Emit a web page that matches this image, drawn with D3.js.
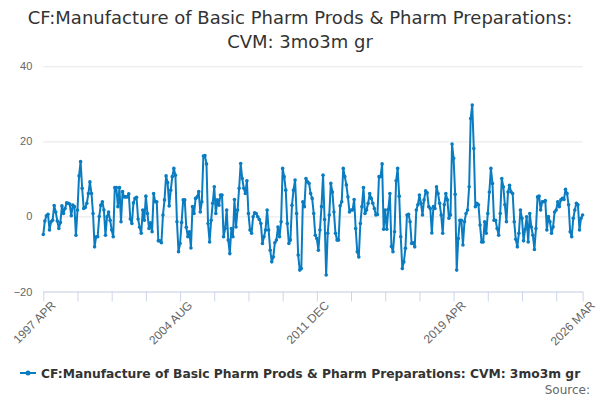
<!DOCTYPE html>
<html>
<head>
<meta charset="utf-8">
<script src="https://cdn.jsdelivr.net/npm/d3@7"></script>
<style>
  body { margin: 0; background: #fff; }
  svg { font-family: "DejaVu Sans", sans-serif; }
  .axis text { fill: #666; font-size: 11px; }
  .axis.x text { font-size: 12px; }
</style>
</head>
<body>
<svg id="chart" width="600" height="400"></svg>
<script>
const title = ["CF:Manufacture of Basic Pharm Prods & Pharm Preparations:", "CVM: 3mo3m gr"];
const seriesName = "CF:Manufacture of Basic Pharm Prods & Pharm Preparations: CVM: 3mo3m gr";
const monthNames = ["JAN", "FEB", "MAR", "APR", "MAY", "JUN", "JUL", "AUG", "SEP", "OCT", "NOV", "DEC"];
const firstYear = 1997;
const firstMonth = 3; // APR

// monthly values, 1997 APR .. 2026 MAR
const values = [
  -4.8, -1.2, 0.2, 0.6, -3.6, -1.4, -1.0, 2.9, 1.2, -1.2, -3.2, -1.6, 2.8, 0.8, 2.1, 3.6, 3.5, 3.3, 0.2, 3.0,
  2.6, -5.0, 1.7, 10.8, 14.6, 7.5, 2.1, 2.4, 3.5, 6.1, 9.2, 6.1, 0.8, -8.1, -5.4, -5.4, 0.0, 3.0, 3.9, 1.7,
  -5.0, -0.1, 1.2, -1.0, -3.6, -5.4, 7.7, 7.7, 2.6, 7.7, -1.4, 6.6, 5.2, 5.2, 5.2, 6.0, -0.7, -1.9, 3.6, 4.8,
  5.1, -0.7, -2.9, -4.5, 1.7, -1.0, 5.4, 0.8, -3.2, -1.7, -4.1, 6.1, 3.9, 3.9, -6.5, -6.5, -7.0, 0.4, 4.4, 10.8,
  9.0, 2.8, 7.0, 10.6, 12.8, 11.0, -1.4, -9.4, -7.2, -1.6, 4.4, 4.4, -2.9, -5.4, -4.1, -8.4, 2.6, 0.8, 4.8, 5.2,
  6.6, 1.2, 3.9, 16.1, 16.2, 14.0, -1.9, -6.8, -1.0, 3.5, 7.9, 0.8, 4.4, 3.0, 5.7, 5.7, -5.4, -3.2, 1.7, -6.3,
  -9.9, -3.2, -5.4, 4.5, -2.8, 1.7, 7.5, 14.1, 10.1, 7.5, 6.1, 9.5, 0.8, -3.6, -4.5, -0.1, 1.0, 0.8, -0.1, -0.8,
  -1.9, -7.2, -5.4, -3.6, 1.7, -3.6, -9.0, -12.1, -10.8, -7.0, -6.3, -2.8, -5.4, -1.4, 12.8, 10.6, 7.0, -1.9, -7.2, -6.3,
  3.0, 7.0, 9.7, 0.8, -10.3, -14.3, -13.9, 3.9, 2.6, 10.1, 9.2, 8.8, 6.1, 4.8, 0.8, -5.0, -5.9, -9.0, -3.6, 2.6,
  11.0, -0.8, -15.6, -4.5, 0.4, 8.8, 6.5, 1.2, -4.5, -6.3, -6.3, 2.8, 3.9, 12.8, 10.6, 8.4, 5.2, 1.2, 1.7, 1.7,
  4.5, -3.2, -9.4, -10.8, -1.9, 2.6, 7.7, 0.8, 1.7, 3.5, 6.1, 4.8, 3.5, 2.1, 0.4, 0.5, 10.6, 10.6, 14.0, -3.4,
  1.7, -3.4, 1.9, 6.1, -8.0, -9.4, -4.1, 9.5, 12.8, 5.4, -5.4, -13.9, -12.1, -8.5, 0.4, 0.6, -1.4, -7.2, -7.0, -8.1,
  1.7, 3.1, 5.7, 3.5, 0.4, 4.4, 6.8, 6.3, 2.6, 2.1, -4.4, 2.6, 2.1, 7.9, 6.1, 3.5, 0.4, -4.5, 3.1, 6.1,
  4.4, -0.5, 0.4, 19.3, 15.5, 5.9, -14.3, -5.9, -1.0, -1.0, -7.6, -1.4, 0.8, 1.7, 7.9, 26.1, 29.7, 18.1, 2.6, 3.5,
  3.1, -2.3, -6.8, -6.8, -1.4, -4.5, 0.8, 6.5, 12.8, 8.8, -1.0, -1.0, -3.2, -5.0, 0.8, 10.1, 7.9, 3.1, -1.4, 6.5,
  8.3, 6.5, 6.1, -1.4, -6.1, -8.1, -4.5, 1.7, -0.5, -6.5, -3.5, -0.1, -6.8, 0.8, -2.8, -5.0, -8.8, -3.2, 5.2, 5.4,
  1.7, 3.9, 3.9, 4.2, -3.6, 0.0, -1.4, -4.5, -2.8, 1.2, 1.7, 3.9, 2.6, 4.4, 4.8, 4.5, 7.2, 6.1, 3.1, -4.1,
  -5.4, -0.5, 1.7, 3.5, 3.1, -3.6, -0.5, 0.4
];

const categories = values.map((d, i) => {
  const m = firstMonth + i;
  return `${firstYear + Math.floor(m / 12)} ${monthNames[m % 12]}`;
});

const tickLabels = ["1997 APR", "2004 AUG", "2011 DEC", "2019 APR", "2026 MAR"];
const yTicks = [-20, 0, 20, 40];
const minorStep = 22;

const lineColor = "#0a7cc1";
const svg = d3.select("#chart");

const x = d3.scalePoint().domain(categories).range([43.3, 582.6]);
const y = d3.scaleLinear().domain([-20, 40]).range([291.5, 66.3]);

// title
svg.append("g")
  .selectAll("text")
  .data(title)
  .join("text")
  .attr("x", 300)
  .attr("y", (d, i) => 24 + i * 24)
  .attr("text-anchor", "middle")
  .attr("fill", "#333")
  .style("font-size", "18px")
  .text((d) => d);

// gridlines + y labels
const yAxis = svg.append("g")
  .attr("class", "axis")
  .attr("transform", "translate(43.3,0)")
  .call(d3.axisLeft(y).tickValues(yTicks).tickSize(-539.3).tickFormat(d3.format("d")));
yAxis.select(".domain").remove();
yAxis.selectAll(".tick line").attr("stroke", "#e6e6e6");
yAxis.selectAll(".tick text").attr("x", -11);

// x axis
const minorCats = categories.filter((d, i) => i % minorStep === 0 || i === categories.length - 1);
const xAxis = svg.append("g")
  .attr("class", "axis x")
  .attr("transform", "translate(0,291.5)")
  .call(d3.axisBottom(x).tickValues(minorCats).tickSize(10).tickSizeOuter(0)
    .tickFormat((d) => (tickLabels.includes(d) ? d : "")));
xAxis.select(".domain").attr("stroke", "#ccd6eb");
xAxis.selectAll(".tick line").attr("stroke", "#ccd6eb");
xAxis.selectAll(".tick text")
  .attr("text-anchor", "end")
  .attr("transform", "translate(4,6) rotate(-45)")
  .attr("dy", "0.35em")
  .attr("y", 8)
  .attr("x", 0);

// series
const line = d3.line()
  .x((d, i) => x(categories[i]))
  .y((d) => y(d));

svg.append("path")
  .datum(values)
  .attr("fill", "none")
  .attr("stroke", lineColor)
  .attr("stroke-width", 2)
  .attr("stroke-linejoin", "round")
  .attr("d", line);

svg.append("g")
  .selectAll("circle")
  .data(values)
  .join("circle")
  .attr("cx", (d, i) => x(categories[i]))
  .attr("cy", (d) => y(d))
  .attr("r", 1.8)
  .attr("fill", lineColor);

// legend
const legend = svg.append("g").attr("transform", "translate(20,373)");
legend.append("line")
  .attr("x1", 0).attr("x2", 16)
  .attr("stroke", lineColor).attr("stroke-width", 2);
legend.append("circle").attr("cx", 8).attr("r", 2.5).attr("fill", lineColor);
legend.append("text")
  .attr("x", 21)
  .attr("y", 5)
  .attr("fill", "#333")
  .style("font-size", "12.3px")
  .style("font-weight", "bold")
  .text(seriesName);

svg.append("text")
  .attr("x", 590)
  .attr("y", 394)
  .attr("text-anchor", "end")
  .attr("fill", "#666")
  .style("font-size", "12px")
  .text("Source:");
</script>
</body>
</html>
